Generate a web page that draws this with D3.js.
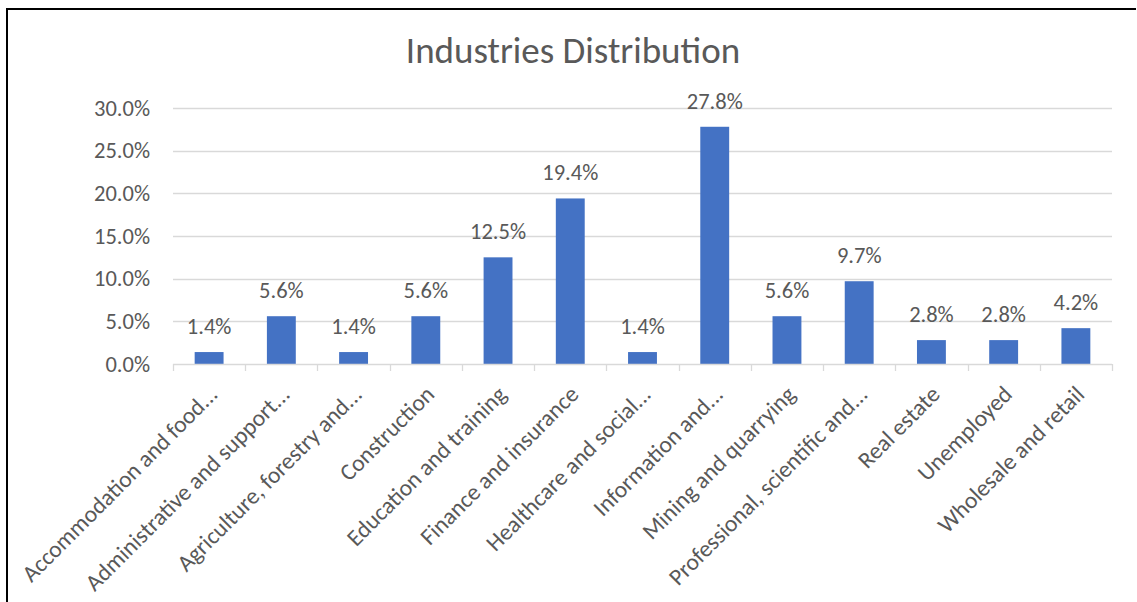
<!DOCTYPE html>
<html>
<head>
<meta charset="utf-8">
<script src="https://cdn.jsdelivr.net/npm/d3@7"></script>
<style>
  html, body { margin: 0; padding: 0; background: #fff; }
  svg { display: block; }
  text { font-family: Carlito, Calibri, Lato, sans-serif; fill: #595959; }
</style>
</head>
<body>
<svg id="chart" width="1137" height="602"></svg>
<script>
// Industry categories as shown on the axis (long names truncated)
const categories = [
  "Accommodation and food...",
  "Administrative and support...",
  "Agriculture, forestry and...",
  "Construction",
  "Education and training",
  "Finance and insurance",
  "Healthcare and social...",
  "Information and...",
  "Mining and quarrying",
  "Professional, scientific and...",
  "Real estate",
  "Unemployed",
  "Wholesale and retail"
];
// Share of respondents per industry, in percent
const shares = [1.4, 5.6, 1.4, 5.6, 12.5, 19.4, 1.4, 27.8, 5.6, 9.7, 2.8, 2.8, 4.2];
// Value axis ticks, in percent
const yTicks = [0, 5, 10, 15, 20, 25, 30];
const chartTitle = "Industries Distribution";

const svg = d3.select("#chart");
const margin = { left: 173, right: 1112, top: 108, bottom: 364 };

const x = d3.scaleBand()
  .domain(categories)
  .range([margin.left, margin.right])
  .paddingInner(0.6)
  .paddingOuter(0.3);

const y = d3.scaleLinear()
  .domain([0, 30])
  .range([margin.bottom, margin.top]);

// Outer frame (left and top edges)
svg.append("path")
  .attr("d", "M7,602 V9 H1136")
  .attr("fill", "none")
  .attr("stroke", "#000")
  .attr("stroke-width", 2);

// Title
svg.append("text")
  .attr("x", 573)
  .attr("y", 63)
  .attr("text-anchor", "middle")
  .style("font-size", "37px")
  .text(chartTitle);

// Horizontal gridlines
svg.append("g")
  .selectAll("line")
  .data(yTicks.filter(d => d > 0))
  .join("line")
  .attr("x1", margin.left)
  .attr("x2", margin.right)
  .attr("y1", d => Math.round(y(d)) + 0.5)
  .attr("y2", d => Math.round(y(d)) + 0.5)
  .attr("stroke", "#D9D9D9")
  .attr("stroke-width", 1.3);

// Value axis labels
const yAxis = d3.axisLeft(y)
  .tickValues(yTicks)
  .tickSize(0)
  .tickPadding(23)
  .tickFormat(d => d.toFixed(1) + "%");
const gy = svg.append("g")
  .attr("transform", `translate(${margin.left},0)`)
  .call(yAxis);
gy.select(".domain").remove();
gy.selectAll("text")
  .style("font-size", "22.5px")
  .attr("fill", "#595959");

// Bars
svg.append("g")
  .selectAll("rect")
  .data(shares)
  .join("rect")
  .attr("x", (d, i) => x(categories[i]))
  .attr("width", x.bandwidth())
  .attr("y", d => y(d))
  .attr("height", d => y(0) - y(d))
  .attr("fill", "#4472C4");

// Data labels
svg.append("g")
  .selectAll("text")
  .data(shares)
  .join("text")
  .attr("x", (d, i) => x(categories[i]) + x.bandwidth() / 2)
  .attr("y", d => y(d) - 18)
  .attr("text-anchor", "middle")
  .style("font-size", "22.5px")
  .text(d => d.toFixed(1) + "%");

// Category axis line and boundary ticks
const boundaries = d3.range(categories.length + 1).map(i => margin.left + i * (margin.right - margin.left) / categories.length);
svg.append("line")
  .attr("x1", margin.left)
  .attr("x2", margin.right)
  .attr("y1", y(0) + 0.5)
  .attr("y2", y(0) + 0.5)
  .attr("stroke", "#D9D9D9")
  .attr("stroke-width", 1.3);
svg.append("g")
  .selectAll("line")
  .data(boundaries)
  .join("line")
  .attr("x1", d => Math.round(d) + 0.5)
  .attr("x2", d => Math.round(d) + 0.5)
  .attr("y1", y(0))
  .attr("y2", y(0) + 7)
  .attr("stroke", "#D9D9D9")
  .attr("stroke-width", 1.3);

// Rotated category labels
svg.append("g")
  .selectAll("text")
  .data(categories)
  .join("text")
  .attr("transform", d => `translate(${x(d) + x.bandwidth() / 2 + 4},${y(0) + 26}) rotate(-45)`)
  .attr("text-anchor", "end")
  .attr("dy", "0.35em")
  .style("font-size", "23.5px")
  .text(d => d);
</script>
</body>
</html>
